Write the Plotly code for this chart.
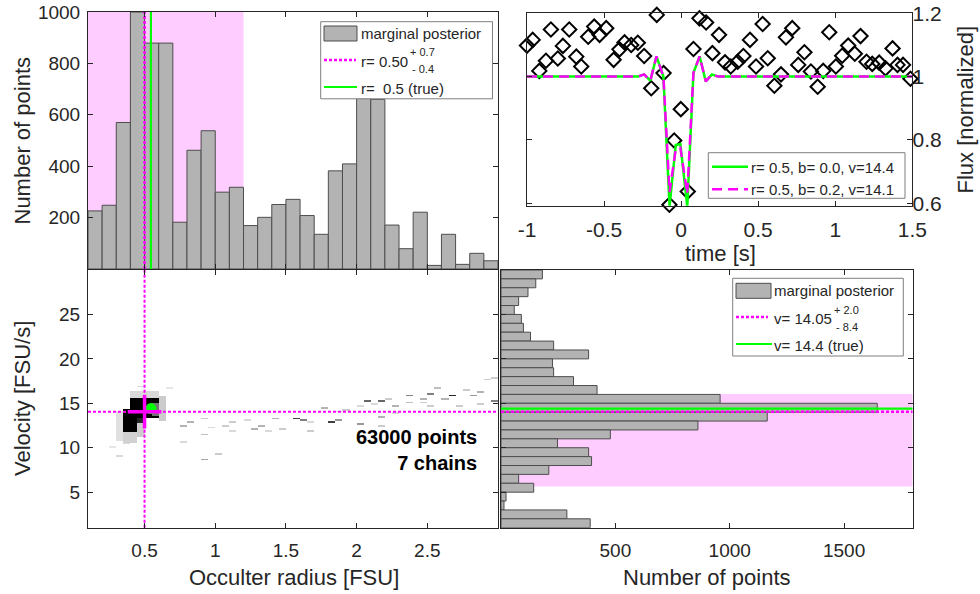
import numpy as np
import plotly.graph_objects as go

FONT = "Liberation Sans, Arial, Helvetica, sans-serif"
TXT = "#262626"
AX = "#262626"
PINK = "#FFCCFF"
BARFILL = "#B3B3B3"
BAREDGE = "#4D4D4D"
MAG = "#FF00FF"
GRN = "#00FF00"
W, H = 980, 594

# ---------------- data ----------------
# marginal posterior of occulter radius (bins of 0.1 FSU)
r_bin_centers = [0.15, 0.25, 0.35, 0.45, 0.55, 0.65, 0.75, 0.85, 0.95, 1.05,
                 1.15, 1.25, 1.35, 1.45, 1.55, 1.65, 1.75, 1.85, 1.95, 2.05,
                 2.15, 2.25, 2.35, 2.45, 2.55, 2.65, 2.75, 2.85, 2.95]
r_counts = [226, 248, 570, 1000, 879, 879, 182, 462, 538, 299,
            318, 169, 201, 251, 271, 208, 135, 382, 409, 664,
            660, 171, 79, 221, 14, 135, 18, 61, 32]
r_median, r_err_plus, r_err_minus = 0.50, 0.7, 0.4
r_true = 0.545

# marginal posterior of velocity (bins of 1 FSU/s)
v_bin_centers = [29.5, 28.5, 27.5, 26.5, 25.5, 24.5, 23.5, 22.5, 21.5, 20.5,
                 19.5, 18.5, 17.5, 16.5, 15.5, 14.5, 13.5, 12.5, 11.5, 10.5,
                 9.5, 8.5, 7.5, 6.5, 5.5, 4.5, 3.5, 2.5, 1.5]
v_counts = [181, 152, 118, 77, 58, 89, 98, 129, 230, 383,
            225, 230, 317, 420, 958, 1645, 1164, 861, 478, 247,
            383, 396, 209, 77, 143, 22, 13, 288, 390]
v_median, v_err_plus, v_err_minus = 14.05, 2.0, 8.4
v_true = 14.4

# light curve
t_obs = [-1.0, -0.963, -0.92, -0.877, -0.845, -0.80, -0.767, -0.726, -0.68, -0.648,
         -0.603, -0.564, -0.529, -0.486, -0.438, -0.40, -0.367, -0.324, -0.281, -0.24,
         -0.194, -0.158, -0.114, -0.076, -0.045, -0.002, 0.043, 0.08, 0.119, 0.162,
         0.203, 0.246, 0.285, 0.322, 0.367, 0.404, 0.447, 0.486, 0.529, 0.562,
         0.605, 0.648, 0.68, 0.721, 0.76, 0.80, 0.842, 0.886, 0.922, 0.961,
         1.004, 1.045, 1.084, 1.127, 1.164, 1.203, 1.24, 1.285, 1.326, 1.372,
         1.404, 1.44, 1.488]
flux_obs = [1.098, 1.116, 1.018, 1.05, 1.149, 1.057, 1.097, 1.149, 1.063, 1.032,
            1.126, 1.158, 1.132, 1.153, 1.053, 1.086, 1.108, 1.10, 1.107, 1.065,
            0.963, 1.195, 1.011, 0.595, 0.798, 0.897, 0.637, 1.087, 1.184, 1.171,
            1.074, 1.132, 1.045, 1.032, 1.047, 1.065, 1.116, 1.032, 1.166, 1.058,
            0.971, 1.007, 1.124, 1.153, 1.037, 1.077, 1.016, 0.968, 1.018, 1.14,
            1.032, 1.066, 1.098, 1.072, 1.128, 1.047, 1.04, 1.044, 1.026, 1.089,
            1.037, 1.037, 0.993]
model_t = [-1.0, -0.28, -0.24, -0.20, -0.16, -0.115, -0.075, -0.035, -0.005, 0.04,
           0.08, 0.12, 0.16, 0.20, 0.24, 1.5]
flux_model_true = [1.0, 1.0, 1.007, 0.987, 1.064, 1.0, 0.59, 0.784, 0.787, 0.59,
                   1.012, 1.064, 0.985, 1.007, 1.0, 1.0]
flux_model_fit = [1.0, 1.0, 1.007, 0.987, 1.064, 1.0, 0.635, 0.77, 0.775, 0.63,
                  1.012, 1.064, 0.985, 1.007, 1.0, 1.0]
label_true = "r= 0.5, b= 0.0, v=14.4"
label_fit = "r= 0.5, b= 0.2, v=14.1"

# 2D posterior density (grey level 0..1): blocks (r0, r1, v0, v1, level)
density_blocks = [
    (0.28, 0.34, 10.8, 14.2, 0.12),
    (0.33, 0.46, 10.6, 11.8, 0.18),
    (0.45, 0.52, 11.2, 13.2, 0.2),
    (0.58, 0.66, 13.0, 15.8, 0.2),
    (0.40, 0.62, 15.4, 16.4, 0.15),
    (0.33, 0.47, 11.8, 14.3, 1.0),
    (0.45, 0.52, 12.8, 13.6, 0.85),
    (0.38, 0.47, 14.2, 14.8, 0.9),
    (0.42, 0.58, 13.4, 15.6, 1.0),
    (0.57, 0.62, 13.6, 15.0, 0.55),
]
# isolated samples: (r, v, level)
density_dashes = [
    (0.27, 10.2, 0.1), (0.32, 9.1, 0.15), (0.37, 10.4, 0.15), (0.47, 16.9, 0.15),
    (0.66, 16.7, 0.1), (0.77, 12.6, 0.3), (0.82, 12.8, 0.3), (0.77, 10.7, 0.15),
    (0.9, 13.3, 0.2), (0.9, 11.5, 0.25), (0.9, 8.7, 0.35), (1.0, 9.3, 0.2),
    (0.95, 12.3, 0.15), (1.05, 12.6, 0.2), (1.1, 12.8, 0.2), (1.12, 11.8, 0.15),
    (1.22, 13.0, 0.15), (1.28, 12.2, 0.3), (1.32, 12.4, 0.3), (1.42, 13.35, 0.3),
    (1.47, 12.0, 0.2), (1.57, 13.35, 0.75), (1.62, 13.1, 0.5), (1.67, 12.8, 0.15),
    (1.76, 14.4, 0.3), (1.81, 12.95, 0.75), (1.86, 13.2, 0.4), (1.85, 14.1, 0.15),
    (1.95, 14.3, 0.2), (2.02, 12.75, 0.4), (2.07, 15.26, 0.6), (2.12, 14.8, 0.15),
    (2.17, 15.26, 0.6), (2.17, 13.4, 0.3), (2.17, 12.5, 0.2), (2.25, 15.5, 0.2),
    (2.3, 14.7, 0.3), (2.37, 15.8, 0.5), (2.4, 15.1, 0.25), (2.45, 15.4, 0.3),
    (2.52, 16.1, 0.5), (2.55, 14.7, 0.2), (2.6, 15.4, 0.3), (2.67, 15.9, 0.85),
    (2.72, 14.6, 0.2), (2.77, 16.5, 0.2), (2.82, 15.9, 0.4), (2.87, 16.3, 0.3),
    (2.87, 14.9, 0.2), (2.92, 17.6, 0.2), (2.97, 15.26, 0.5), (2.97, 17.9, 0.2),
    (2.57, 16.6, 0.25), (2.47, 15.0, 0.2), (2.3, 13.8, 0.15), (2.02, 14.7, 0.15),
    (1.7, 11.9, 0.2), (1.4, 11.8, 0.15),
]
n_points_text = "63000 points"
n_chains_text = "7 chains"

r_range = [0.1, 3.0]
v_range = [1.0, 30.0]

# ---------------- density grid ----------------
r_w, v_w = 0.05, 0.2
nr = int(round((r_range[1] - r_range[0]) / r_w))
nv = int(round((v_range[1] - v_range[0]) / v_w))
r_c = r_range[0] + r_w * (np.arange(nr) + 0.5)
v_c = v_range[0] + v_w * (np.arange(nv) + 0.5)
Z = np.full((nv, nr), np.nan)
for r0, r1, v0, v1, s in density_blocks:
    mi = (r_c >= r0) & (r_c <= r1)
    mj = (v_c >= v0) & (v_c <= v1)
    Z[np.ix_(mj, mi)] = s
for r, v, s in density_dashes:
    i = int((r - r_range[0]) / r_w)
    j = int((v - v_range[0]) / v_w)
    if 0 <= i < nr and 0 <= j < nv:
        Z[j, i] = s

# ---------------- figure ----------------
def px(x):
    return x / W


def py(y):
    return 1 - y / H


fig = go.Figure()

# top-left histogram
fig.add_trace(go.Bar(x=r_bin_centers, y=r_counts, width=0.1,
                     marker=dict(color=BARFILL, line=dict(color=BAREDGE, width=1)),
                     xaxis="x", yaxis="y", hoverinfo="skip"))
fig.add_trace(go.Scatter(x=[r_median, r_median], y=[0, 1000], mode="lines",
                         line=dict(color=MAG, width=2.5, dash="3px,2px"),
                         xaxis="x", yaxis="y", hoverinfo="skip"))
fig.add_trace(go.Scatter(x=[r_true, r_true], y=[0, 1000], mode="lines",
                         line=dict(color=GRN, width=2.2),
                         xaxis="x", yaxis="y", hoverinfo="skip"))

# top-right light curve
fig.add_trace(go.Scatter(x=t_obs, y=flux_obs, mode="markers",
                         marker=dict(symbol="diamond-open", size=11, color="black",
                                     line=dict(width=2, color="black")),
                         cliponaxis=False, xaxis="x2", yaxis="y2", hoverinfo="skip"))
fig.add_trace(go.Scatter(x=model_t, y=flux_model_true, mode="lines",
                         line=dict(color=GRN, width=2.5),
                         xaxis="x2", yaxis="y2", hoverinfo="skip"))
fig.add_trace(go.Scatter(x=model_t, y=flux_model_fit, mode="lines",
                         line=dict(color=MAG, width=2.5, dash="10px,6px"),
                         xaxis="x2", yaxis="y2", hoverinfo="skip"))

# bottom-left density
fig.add_trace(go.Heatmap(x=r_c, y=v_c, z=Z, zmin=0, zmax=1,
                         colorscale=[[0, "#ffffff"], [1, "#000000"]],
                         showscale=False, hoverinfo="skip",
                         xaxis="x3", yaxis="y3"))
fig.add_trace(go.Scatter(x=[r_median, r_median], y=v_range, mode="lines",
                         line=dict(color=MAG, width=2, dash="3px,2px"),
                         xaxis="x3", yaxis="y3", hoverinfo="skip"))
fig.add_trace(go.Scatter(x=r_range, y=[v_median, v_median], mode="lines",
                         line=dict(color=MAG, width=2, dash="3px,2px"),
                         xaxis="x3", yaxis="y3", hoverinfo="skip"))
fig.add_trace(go.Scatter(x=[r_true], y=[v_true], mode="markers",
                         marker=dict(symbol="circle", size=11, color=GRN),
                         xaxis="x3", yaxis="y3", hoverinfo="skip"))
fig.add_trace(go.Scatter(x=[r_median], y=[v_median], mode="markers",
                         marker=dict(symbol="cross-thin", size=24,
                                     line=dict(color=MAG, width=3.5), color=MAG),
                         xaxis="x3", yaxis="y3", hoverinfo="skip"))

# bottom-right histogram
fig.add_trace(go.Bar(y=v_bin_centers, x=v_counts, width=1.0, orientation="h",
                     marker=dict(color=BARFILL, line=dict(color=BAREDGE, width=1)),
                     xaxis="x4", yaxis="y4", hoverinfo="skip"))
fig.add_trace(go.Scatter(x=[0, 1800], y=[v_median, v_median], mode="lines",
                         line=dict(color=MAG, width=2.5, dash="3px,2px"),
                         xaxis="x4", yaxis="y4", hoverinfo="skip"))
fig.add_trace(go.Scatter(x=[0, 1800], y=[v_true, v_true], mode="lines",
                         line=dict(color=GRN, width=2.2),
                         xaxis="x4", yaxis="y4", hoverinfo="skip"))

# ---------------- axes ----------------
base = dict(showline=True, linecolor=AX, linewidth=1, mirror="ticks", ticks="inside",
            ticklen=5, tickcolor=AX, tickwidth=1, showgrid=False, zeroline=False,
            automargin=False,
            tickfont=dict(family=FONT, size=19, color=TXT), fixedrange=True)

TLx = [px(88), px(498)]
TLy = [py(269), py(12)]
TRx = [px(527), px(912.3)]
TRy = [py(205.7), py(13.3)]
BLx = [px(88), px(498)]
BLy = [py(527.7), py(270)]
BRx = [px(501), px(912.7)]
BRy = [py(527.7), py(270)]

fig.update_layout(
    xaxis=dict(base, domain=TLx, range=r_range, anchor="y",
               tickvals=[0.5, 1, 1.5, 2, 2.5], showticklabels=False),
    yaxis=dict(base, domain=TLy, range=[0, 1000], anchor="x",
               tickvals=[200, 400, 600, 800, 1000], ticklabelstandoff=3),
    xaxis2=dict(base, domain=TRx, range=[-1, 1.5], anchor="y2",
                tickvals=[-1, -0.5, 0, 0.5, 1, 1.5],
                ticktext=["-1", "-0.5", "0", "0.5", "1", "1.5"],
                tickfont=dict(family=FONT, size=21, color=TXT), ticklabelstandoff=5),
    yaxis2=dict(base, domain=TRy, range=[0.592, 1.2], anchor="x2", side="right",
                tickvals=[0.6, 0.8, 1.0, 1.2], ticktext=["0.6", "0.8", "1", "1.2"],
                tickfont=dict(family=FONT, size=21, color=TXT), ticklabelstandoff=-5),
    xaxis3=dict(base, domain=BLx, range=r_range, anchor="y3",
                tickvals=[0.5, 1, 1.5, 2, 2.5], ticktext=["0.5", "1", "1.5", "2", "2.5"],
                ticklabelstandoff=5),
    yaxis3=dict(base, domain=BLy, range=v_range, anchor="x3",
                tickvals=[5, 10, 15, 20, 25], ticklabelstandoff=3),
    xaxis4=dict(base, domain=BRx, range=[0, 1800], anchor="y4",
                tickvals=[500, 1000, 1500], ticklabelstandoff=5),
    yaxis4=dict(base, domain=BRy, range=v_range, anchor="x4",
                tickvals=[5, 10, 15, 20, 25], showticklabels=False),
)

# ---------------- shapes (shading + legends) ----------------
shapes = [
    dict(type="rect", xref="x", yref="y", x0=r_median - r_err_minus, x1=r_median + r_err_plus,
         y0=0, y1=1000, fillcolor=PINK, line=dict(width=0), layer="below"),
    dict(type="rect", xref="x4", yref="y4", x0=0, x1=1800,
         y0=v_median - v_err_minus, y1=v_median + v_err_plus,
         fillcolor=PINK, line=dict(width=0), layer="below"),
]


def box(x0, y0, x1, y1):
    return dict(type="rect", xref="paper", yref="paper", x0=px(x0), x1=px(x1),
                y0=py(y1), y1=py(y0), fillcolor="white",
                line=dict(color="#7f7f7f", width=1), layer="above")


def patch(x0, y0, x1, y1):
    return dict(type="rect", xref="paper", yref="paper", x0=px(x0), x1=px(x1),
                y0=py(y1), y1=py(y0), fillcolor=BARFILL,
                line=dict(color=BAREDGE, width=1), layer="above")


def sample(x0, x1, y, color, dash="solid", width=2.5):
    return dict(type="line", xref="paper", yref="paper", x0=px(x0), x1=px(x1),
                y0=py(y), y1=py(y), line=dict(color=color, width=width, dash=dash),
                layer="above")


# TL legend
shapes += [box(320.7, 21.7, 492.5, 98.8), patch(324, 26, 357, 41),
           sample(324, 356, 60, MAG, "3px,2px"), sample(324, 357, 87, GRN, width=2.2)]
# TR legend
shapes += [box(708.3, 152.7, 905, 198.3),
           sample(712, 748, 166.7, GRN), sample(712, 748, 189.3, MAG, "10px,6px")]
# BR legend
shapes += [box(732.7, 278.3, 903.3, 356), patch(736, 283.3, 771, 298.3),
           sample(736, 768, 317, MAG, "3px,2px"), sample(736, 772, 344, GRN, width=2.2)]
fig.update_layout(shapes=shapes)


def ann(text, x, y, size=15, xanchor="left", yanchor="middle", angle=0, bold=False, align="left"):
    t = f"<b>{text}</b>" if bold else text
    return dict(text=t, x=px(x), y=py(y), xref="paper", yref="paper", showarrow=False,
                xanchor=xanchor, yanchor=yanchor, textangle=angle, align=align,
                font=dict(family=FONT, size=size, color=TXT if not bold else "black"))


annotations = [
    # axis titles
    ann("Number of points", 22, 140.5, 22, "center", "middle", -90),
    ann("Velocity [FSU/s]", 22, 399, 22, "center", "middle", -90),
    ann("Occulter radius [FSU]", 294, 577, 22, "center"),
    ann("Number of points", 707, 577, 22, "center"),
    ann("time [s]", 720, 253, 22, "center"),
    ann("Flux [normalized]", 965, 109.5, 22, "center", "middle", -90),
    # TL legend text
    ann("marginal posterior", 359, 34),
    ann(f"r= {r_median:.2f}", 359, 61),
    ann(f"+ {r_err_plus:.1f}", 408, 52, 11),
    ann(f"- {r_err_minus:.1f}", 410, 69, 11),
    ann(f"r=\u00a0 {r_true:.1f} (true)", 359, 88),
    # TR legend text
    ann(label_true, 749, 167),
    ann(label_fit, 749, 189.5),
    # BR legend text
    ann("marginal posterior", 772, 291),
    ann(f"v= {v_median:.2f}", 772, 318),
    ann(f"+ {v_err_plus:.1f}", 832, 309.5, 11),
    ann(f"- {v_err_minus:.1f}", 834, 326.5, 11),
    ann(f"v= {v_true:.1f} (true)", 772, 345),
    # chain info
    ann(f"{n_points_text}<br>{n_chains_text}", 479, 450, 20, "right", "middle",
        bold=True, align="right"),
]
fig.update_layout(annotations=annotations)

fig.update_layout(width=W, height=H, margin=dict(l=0, r=0, t=0, b=0),
                  paper_bgcolor="white", plot_bgcolor="white", showlegend=False,
                  font=dict(family=FONT, color=TXT), barmode="overlay")

fig.write_html("out.html")
